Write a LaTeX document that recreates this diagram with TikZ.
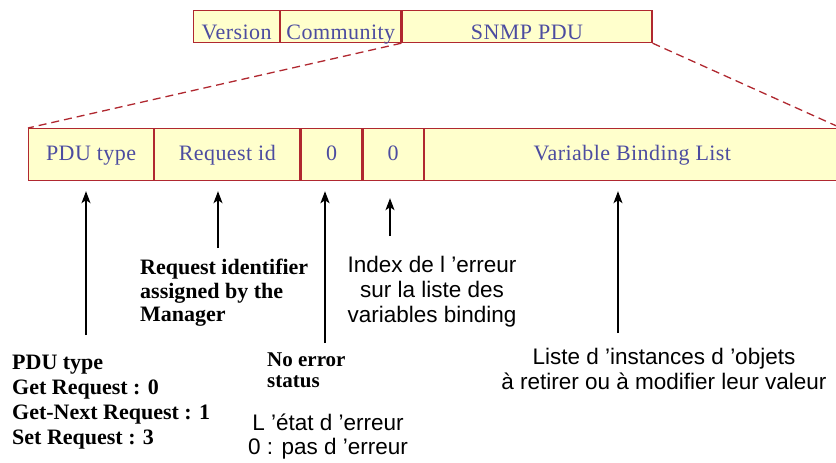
\documentclass[tikz,border=0pt]{standalone}
\usepackage{fontspec}
\setmainfont{Liberation Serif}
\setsansfont{Liberation Sans}
\usetikzlibrary{arrows.meta}
\definecolor{fieldfill}{RGB}{255,255,204}
\definecolor{fieldline}{RGB}{176,40,48}
\definecolor{fieldtext}{RGB}{76,76,160}

\begin{document}
\begin{tikzpicture}[x=1pt,y=-1pt,
	field/.style={draw=fieldline, fill=fieldfill, line width=1.2pt, inner sep=0pt,
		font=\fontsize{22}{25}\selectfont\addfontfeature{LetterSpace=2}, text=fieldtext, anchor=north west},
	topfield/.style={field, minimum height=32pt, text height=29pt, text depth=3pt},
	lowfield/.style={field, minimum height=52pt, text height=32pt, text depth=20pt},
	zoomline/.style={draw=fieldline, dash pattern=on 8pt off 5pt, line width=1.3pt},
	pointer/.style={-{Stealth[length=12pt,width=9pt,inset=3pt]}, line width=1.2pt, shorten >=10pt},
	note/.style={font=\fontsize{22}{25}\selectfont\bfseries, align=left, inner sep=0pt, anchor=north west},
	remark/.style={font=\sffamily\fontsize{22.5}{25}\selectfont, align=center, inner sep=0pt, anchor=north}]
	\useasboundingbox (0,0) rectangle (836,463);

	% message
	\node[topfield, minimum width=86pt] (version) at (193,10) {Version};
	\node[topfield, minimum width=120pt] (community) at (version.north east) {Community};
	\node[topfield, minimum width=250pt] (snmppdu) at (community.north east) {SNMP PDU};

	% PDU
	\node[lowfield, minimum width=125pt] (pdutype) at (28,128) {PDU type};
	\node[lowfield, minimum width=145pt] (reqid) at (pdutype.north east) {Request id};
	\node[lowfield, minimum width=61pt] (errstat) at (reqid.north east) {0};
	\node[lowfield, minimum width=60pt] (errindex) at (errstat.north east) {0};
	\node[lowfield, minimum width=416pt] (varbind) at (errindex.north east) {Variable Binding List};

	\draw[zoomline] (community.south east) -- (pdutype.north west);
	\draw[zoomline] (snmppdu.south east) -- (varbind.north east);

	% arrows
	\coordinate (typetail) at (86,335);
	\coordinate (idtail) at (218,248);
	\coordinate (stattail) at (325,343);
	\coordinate (indextail) at (390,236);
	\coordinate (bindtail) at (618,333);

	\draw[pointer] (typetail) -- (typetail |- pdutype.south);
	\draw[pointer] (idtail) -- (idtail |- reqid.south);
	\draw[pointer, line width=2.2pt] (stattail) -- (stattail |- errstat.south);
	\draw[pointer, shorten >=17pt] (indextail) -- (indextail |- errindex.south);
	\draw[pointer] (bindtail) -- (bindtail |- varbind.south);

	% labels
	\node[note] (typenote) at (12,355) {PDU type\\Get Request : 0\\Get-Next Request : 1\\Set Request : 3};
	\node[note, font=\fontsize{22}{23.5}\selectfont\bfseries] (idnote) at (140,259) {Request identifier\\assigned by the\\Manager};
	\node[note, font=\fontsize{21}{21}\selectfont\bfseries] (statnote) at (267,353) {No error\\status};
	\node[remark] (indexnote) at (432,256) {Index de l ’erreur\\sur la liste des\\variables binding};
	\node[remark, font=\sffamily\fontsize{22.5}{24}\selectfont] (statremark) at (328,414) {L ’état d ’erreur\\0 : pas d ’erreur};
	\node[remark] (bindnote) at (664,348) {Liste d ’instances d ’objets\\à retirer ou à modifier leur valeur};
\end{tikzpicture}
\end{document}
